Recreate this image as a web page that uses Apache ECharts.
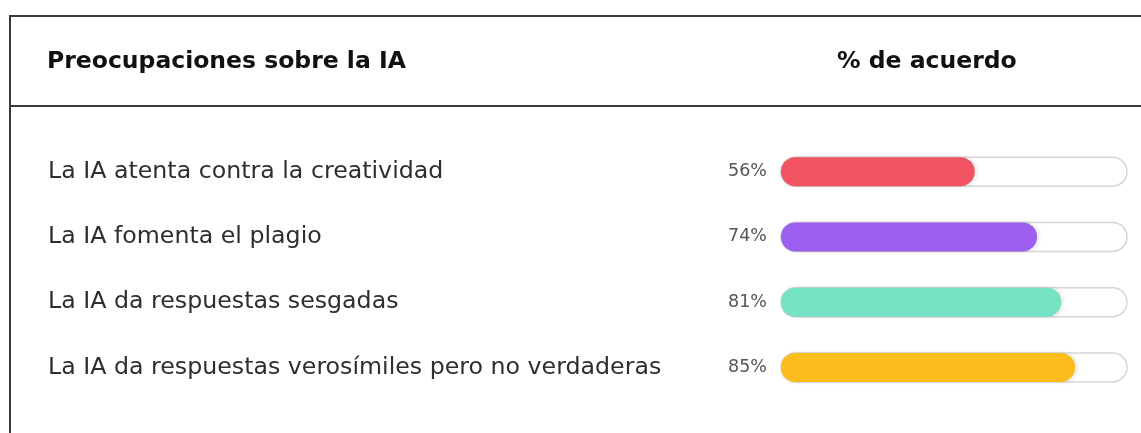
<!DOCTYPE html>
<html>
<head>
<meta charset="utf-8">
<script src="https://cdn.jsdelivr.net/npm/echarts@6/dist/echarts.min.js"></script>
<style>
  html, body { margin: 0; padding: 0; background: #fff; }
  #chart { width: 1141px; height: 433px; }
</style>
</head>
<body>
<div id="chart"></div>
<script>
// datos del gráfico
var categorias = [
    'La IA atenta contra la creatividad',
    'La IA fomenta el plagio',
    'La IA da respuestas sesgadas',
    'La IA da respuestas verosímiles pero no verdaderas'
];
var valores = [56, 74, 81, 85];
var colores = ['#f25464', '#9d5ff0', '#76e2c4', '#fbbd1c'];

var tituloIzq = 'Preocupaciones sobre la IA';
var tituloDer = '% de acuerdo';

var fuente = 'DejaVu Sans';

var myChart = echarts.init(document.getElementById('chart'));

myChart.setOption({
    backgroundColor: '#fff',
    animation: false,
    textStyle: { fontFamily: fuente },
    graphic: [
        // marco
        { type: 'line', shape: { x1: 9, y1: 16, x2: 1141, y2: 16 }, style: { stroke: '#3a3a3a', lineWidth: 2 } },
        { type: 'line', shape: { x1: 9, y1: 106, x2: 1141, y2: 106 }, style: { stroke: '#3a3a3a', lineWidth: 2 } },
        { type: 'line', shape: { x1: 10, y1: 15, x2: 10, y2: 433 }, style: { stroke: '#3a3a3a', lineWidth: 2 } },
        // cabecera
        { type: 'text', left: 47, top: 50, style: { text: tituloIzq, fontSize: 23.5, fontWeight: 'bold', fill: '#111', fontFamily: fuente } },
        { type: 'text', left: 837, top: 50, style: { text: tituloDer, fontSize: 23.5, fontWeight: 'bold', fill: '#111', fontFamily: fuente } }
    ],
    grid: {
        left: 781,
        right: 14,
        top: 139,
        bottom: 33
    },
    xAxis: {
        type: 'value',
        min: 0,
        max: 100,
        show: false
    },
    yAxis: {
        type: 'category',
        inverse: true,
        data: categorias,
        axisLine: { show: false },
        axisTick: { show: false },
        axisLabel: {
            align: 'left',
            margin: 733,
            fontSize: 23.7,
            color: '#2e2e2e',
            fontFamily: fuente,
            padding: [7, 0, 0, 0]
        }
    },
    series: [{
        type: 'bar',
        barWidth: 29,
        data: valores.map(function (v, i) {
            return { value: v, itemStyle: { color: colores[i] } };
        }),
        itemStyle: {
            borderRadius: 15,
            shadowColor: 'rgba(0,0,0,0.12)',
            shadowBlur: 4,
            shadowOffsetX: 2
        },
        showBackground: true,
        backgroundStyle: {
            color: '#fff',
            borderColor: '#d6d6d6',
            borderWidth: 1.5,
            borderRadius: 15
        },
        label: {
            show: true,
            position: 'left',
            distance: 14,
            formatter: '{c}%',
            fontSize: 17.5,
            color: '#555',
            fontFamily: fuente,
            padding: [5, 0, 0, 0]
        }
    }]
});
</script>
</body>
</html>
